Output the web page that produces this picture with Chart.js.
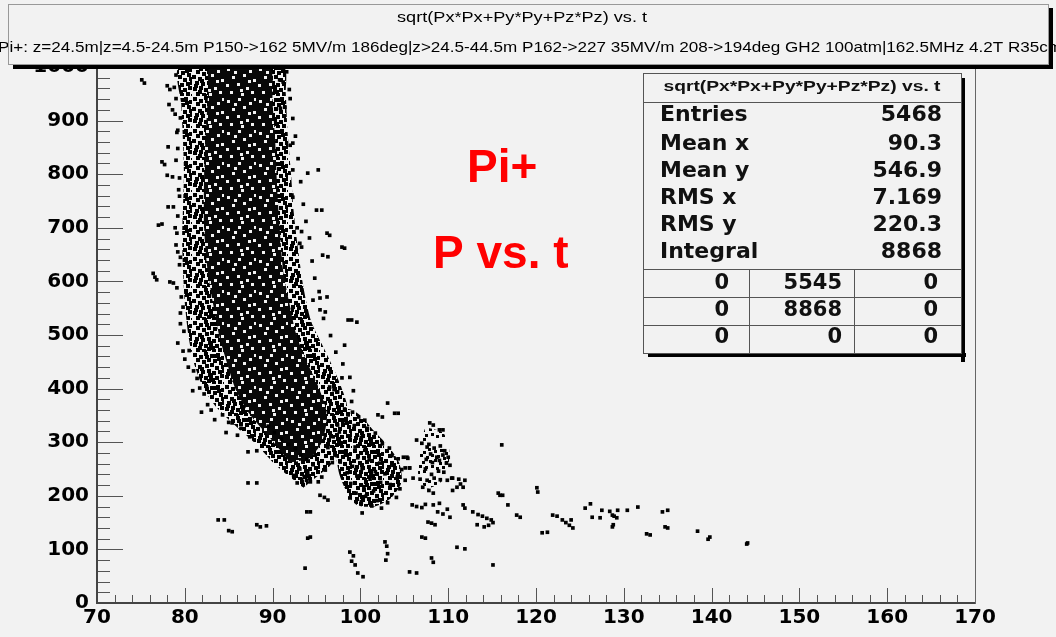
<!DOCTYPE html>
<html>
<head>
<meta charset="utf-8">
<script src="https://cdn.jsdelivr.net/npm/chart.js@4.4.0/dist/chart.umd.min.js"></script>
<style>
  body { margin: 0; background: #f2f2f2; }
  canvas { display: block; }
</style>
</head>
<body>
<canvas id="c" width="1056" height="637"></canvas>
<script>
// --- Axis ranges / ticks ---
const X_MIN = 70, X_MAX = 170, X_MAJOR = 10, X_MINOR = 2;
const Y_MIN = 0, Y_MAX = 1000, Y_MAJOR = 100, Y_MINOR = 20;

// --- Texts ---
const titleLine1 = "sqrt(Px*Px+Py*Py+Pz*Pz) vs. t";
const titleLine2 =
  "Pi+: z=24.5m|z=4.5-24.5m P150->162 5MV/m 186deg|z>24.5-44.5m P162->227 35MV/m 208->194deg GH2 100atm|162.5MHz 4.2T R35cm";
const statLabels = ["Entries", "Mean x", "Mean y", "RMS x", "RMS y", "Integral"];
const statValues = ["5468", "90.3", "546.9", "7.169", "220.3", "8868"];
const tableRows = [["0", "5545", "0"], ["0", "8868", "0"], ["0", "0", "0"]];

// --- Dense core outlines (t, P) ---
// outer, medium density band
const outerBand = [
  [93.5, 215], [90.5, 255], [88.2, 295], [85.8, 330], [83.6, 365], [82.0, 405],
  [81.0, 450], [80.4, 500], [80.0, 560], [79.8, 620], [79.7, 680], [79.8, 740],
  [79.9, 800], [79.8, 860], [79.6, 930], [79.4, 1000],
  [91.2, 1000], [91.5, 950], [91.7, 880], [92.1, 800], [92.4, 730], [92.9, 660],
  [93.5, 590], [94.4, 525], [96.0, 470], [97.4, 420], [98.4, 375], [98.6, 335],
  [98.0, 295], [96.5, 255]
];
// inner, darkest band
const innerBand = [
  [92.0, 262], [89.6, 310], [87.4, 352], [85.8, 398], [84.8, 448], [83.9, 500],
  [83.2, 560], [82.6, 620], [82.2, 700], [82.2, 800], [82.4, 880], [82.7, 960],
  [82.9, 1000],
  [89.6, 1000], [90.0, 930], [90.3, 860], [90.5, 780], [90.8, 700], [91.2, 620],
  [91.9, 560], [92.7, 500], [93.9, 450], [95.3, 400], [96.2, 350], [95.6, 300],
  [94.2, 268]
];
// second blob around t=100
const blob2 = [
  [97.2, 340], [98.6, 362], [100.0, 350], [101.5, 322], [103.0, 296], [104.4, 262],
  [104.7, 226], [103.5, 196], [101.6, 180], [99.6, 183], [98.6, 202], [97.6, 240],
  [97.1, 290]
];
// third blob around t=108
const blob3 = [
  [107.4, 328], [109.4, 318], [110.1, 288], [110.0, 255], [109.2, 226], [107.6, 214],
  [106.6, 238], [106.8, 280], [107.0, 308]
];

// --- Individual markers (t, P) ---
const leftPoints = [
  [75.1, 976], [75.4, 970], [78.0, 965], [78.3, 958], [78.2, 930], [78.6, 920],
  [79.5, 905], [79.2, 882], [78.1, 851], [77.4, 823], [77.7, 818], [78.0, 798],
  [78.6, 795], [79.4, 793], [78.1, 739], [78.7, 739], [77.0, 705], [77.4, 707],
  [78.9, 700], [79.1, 690], [79.2, 655], [79.5, 645], [76.4, 615], [76.6, 608],
  [76.8, 603], [78.3, 599], [78.7, 597], [79.5, 541], [79.8, 552], [79.2, 485],
  [79.8, 470], [80.0, 455], [80.4, 440], [81.7, 401], [82.2, 390], [82.6, 370],
  [83.0, 360], [81.9, 356], [82.5, 403], [85.0, 337], [85.4, 336], [86.0, 313],
  [87.4, 310], [87.2, 282], [88.2, 284], [87.2, 224], [88.2, 224], [83.8, 155],
  [84.5, 155], [85.0, 135], [85.4, 133], [88.2, 146], [88.6, 142], [89.3, 144],
  [79.0, 985], [78.8, 962], [79.0, 941], [78.9, 912], [79.1, 878], [79.2, 848],
  [79.0, 826], [79.3, 771], [79.4, 759], [79.2, 722], [79.0, 668], [79.4, 631],
  [79.1, 588], [79.6, 571], [79.5, 521], [79.9, 507], [80.5, 471], [81.0, 433],
  [81.4, 419], [80.9, 396], [83.4, 342], [84.3, 351], [86.4, 326], [84.7, 318]
];
const rightPoints = [
  [90.8, 976], [91.2, 972], [90.9, 923], [91.4, 925], [92.3, 858], [92.0, 854],
  [92.3, 808], [94.0, 802], [95.2, 808], [92.2, 761], [92.3, 757], [95.0, 733],
  [95.6, 733], [96.2, 690], [96.5, 686], [97.9, 664], [98.2, 662], [95.7, 649],
  [96.3, 646], [93.1, 671], [93.3, 664], [92.8, 700], [93.3, 693], [95.4, 569],
  [96.2, 571], [94.6, 565], [95.4, 547], [96.0, 543], [98.6, 528], [99.0, 528],
  [99.6, 524], [98.2, 481], [97.9, 420], [96.5, 403], [97.0, 398], [97.4, 394],
  [91.6, 991], [91.9, 958], [92.0, 941], [92.3, 904], [92.6, 871], [92.9, 829],
  [93.2, 786], [93.5, 744], [93.8, 712], [94.2, 681], [94.5, 638], [94.8, 606],
  [95.3, 581], [95.8, 531], [96.6, 499], [97.2, 468], [98.0, 446], [98.8, 421],
  [99.2, 396], [99.0, 376], [98.6, 351]
];
const lowBandPoints = [
  [89.5, 330], [90.2, 318], [91.0, 306], [91.8, 296], [92.6, 288], [93.2, 276],
  [93.9, 268], [94.6, 258], [93.1, 250], [94.0, 244], [92.4, 238], [93.6, 236],
  [95.2, 226], [96.8, 262], [97.1, 276], [96.3, 290], [96.9, 310], [97.4, 332],
  [96.0, 248], [92.8, 224], [93.4, 227], [93.9, 229], [94.3, 226], [95.6, 235],
  [95.4, 201], [95.9, 197], [96.3, 192], [93.9, 170], [94.3, 170], [94.3, 123],
  [94.0, 121], [93.7, 65]
];
const blob2Points = [
  [103.1, 373], [103.9, 354], [104.3, 354], [102.0, 351], [102.5, 347], [98.2, 362],
  [99.1, 356], [99.8, 347], [100.5, 341], [98.0, 337], [99.3, 331], [100.8, 326],
  [101.7, 317], [97.6, 319], [98.8, 311], [100.1, 309], [101.2, 301], [102.5, 297],
  [103.3, 289], [97.8, 299], [99.4, 291], [100.5, 285], [102.0, 281], [103.6, 275],
  [104.3, 269], [98.3, 279], [99.7, 271], [101.0, 267], [102.2, 261], [103.7, 257],
  [104.7, 249], [97.7, 263], [99.1, 255], [100.2, 251], [101.7, 245], [102.8, 241],
  [104.2, 235], [105.1, 229], [98.5, 243], [99.6, 237], [101.1, 231], [102.3, 225],
  [103.4, 221], [104.5, 213], [98.9, 223], [100.4, 217], [101.5, 209], [102.9, 205],
  [104.1, 197], [99.5, 205], [100.6, 199], [101.9, 191], [103.1, 187], [100.1, 189],
  [101.3, 181], [102.4, 177], [100.2, 168], [98.8, 196], [105.3, 272], [105.6, 252]
];
const blob3Points = [
  [107.9, 336], [108.3, 332], [109.0, 323], [109.4, 323], [106.4, 304], [107.0, 298],
  [107.6, 291], [107.8, 296], [108.4, 289], [109.1, 293], [109.6, 284], [108.0, 278],
  [108.7, 272], [109.4, 276], [107.5, 268], [108.2, 262], [109.0, 266], [109.8, 261],
  [110.0, 272], [110.2, 257], [104.9, 272], [105.4, 270], [105.1, 252], [105.6, 252],
  [106.0, 233], [106.8, 231], [107.6, 229], [108.4, 233], [109.1, 230], [109.9, 229],
  [110.5, 233], [111.2, 231], [111.9, 229], [110.5, 210], [111.0, 216], [107.1, 216],
  [107.8, 210], [108.3, 205], [108.9, 246], [107.4, 250], [109.5, 244], [108.1, 240],
  [105.9, 183], [106.4, 180], [107.0, 178], [107.4, 184], [108.3, 183], [109.0, 186],
  [108.8, 170], [109.4, 166], [109.9, 175], [110.2, 160], [107.7, 151], [108.1, 149],
  [108.5, 146], [107.0, 123], [107.4, 121], [111.7, 183], [111.9, 177], [110.4, 233],
  [111.7, 216], [111.4, 222]
];
const tailPoints = [
  [102.8, 114], [103.0, 106], [103.1, 92], [102.9, 80], [105.6, 58], [106.4, 56],
  [108.1, 84], [108.3, 76], [111.0, 104], [111.9, 101], [115.1, 71], [98.8, 95],
  [99.2, 88], [99.0, 78], [99.4, 71], [99.7, 56], [100.3, 49], [112.8, 170],
  [113.4, 165], [113.9, 162], [114.4, 158], [114.9, 155], [113.3, 146], [114.1, 142],
  [114.6, 145], [115.1, 150], [115.7, 205], [115.9, 201], [116.2, 201], [116.1, 295],
  [116.8, 183], [117.8, 164], [118.2, 160], [120.1, 215], [120.2, 207], [120.7, 131],
  [121.3, 132], [121.9, 164], [122.4, 162], [123.0, 155], [123.4, 150], [123.8, 145],
  [124.2, 140], [124.0, 155], [125.6, 177], [126.2, 185], [126.4, 160], [127.3, 159],
  [127.5, 173], [128.4, 171], [129.3, 173], [128.7, 164], [129.2, 159], [128.9, 162],
  [128.7, 142], [128.8, 146], [130.4, 173], [131.6, 179], [132.6, 129], [133.0, 127],
  [134.4, 170], [135.0, 173], [134.7, 142], [135.0, 140], [138.4, 134], [139.6, 119],
  [139.8, 123], [144.0, 110], [144.1, 112]
];

const toXY = (arr) => arr.map(([x, y]) => ({ x, y }));

// --- Fill textures for dense regions (fixed hand-placed specks, 32px tile) ---
const TILE_MED = [
  [1, 1], [7, 3], [12, 0], [18, 2], [24, 1], [29, 4], [4, 6], [10, 8], [15, 6],
  [21, 7], [27, 9], [0, 11], [6, 13], [13, 12], [18, 11], [23, 14], [29, 13],
  [3, 17], [9, 18], [15, 17], [20, 19], [26, 18], [1, 23], [7, 22], [12, 24],
  [17, 23], [23, 24], [28, 22], [4, 28], [10, 29], [15, 27], [20, 29], [26, 28],
  [31, 30], [8, 15], [25, 5], [2, 20], [19, 26], [13, 3], [30, 17], [6, 26],
  [22, 2], [16, 21], [11, 30]
];
const TILE_HOLES = [
  [3, 4], [14, 2], [25, 6], [8, 12], [19, 10], [29, 15], [2, 20], [13, 19],
  [22, 23], [6, 27], [17, 29], [27, 27], [10, 7], [30, 2], [24, 16], [16, 25]
];

function makePattern(spots, sq, ink, base) {
  const c = document.createElement("canvas");
  c.width = 32;
  c.height = 32;
  const g = c.getContext("2d");
  if (base) {
    g.fillStyle = base;
    g.fillRect(0, 0, 32, 32);
  }
  g.fillStyle = ink;
  spots.forEach(([x, y]) => g.fillRect(x, y, sq[0], sq[1]));
  return g.createPattern(c, "repeat");
}

const densePattern = makePattern(TILE_HOLES, [3, 3], "#f2f2f2", "#080808");
const medPattern = makePattern(TILE_MED, [4, 4], "#000", null);
const sparsePattern = makePattern(TILE_MED.slice(0, 24), [3, 3], "#000", null);

function polygon(points, fillStyle) {
  return {
    data: toXY(points),
    showLine: true,
    fill: "shape",
    backgroundColor: fillStyle,
    borderWidth: 0,
    pointRadius: 0,
    tension: 0.25,
  };
}

// --- ROOT-like decorations: frame, inner ticks, title pave, stats box ---
const rootDeco = {
  id: "rootDeco",
  beforeDraw(chart) {
    const ctx = chart.ctx;
    ctx.save();
    ctx.fillStyle = "#f2f2f2";
    ctx.fillRect(0, 0, chart.width, chart.height);
    ctx.restore();
  },
  afterDatasetsDraw(chart) {
    const ctx = chart.ctx;
    const a = chart.chartArea;
    const xs = chart.scales.x;
    const ys = chart.scales.y;
    ctx.save();
    ctx.strokeStyle = "#555";
    ctx.lineWidth = 1;
    ctx.beginPath();
    for (let i = 0; i <= (X_MAX - X_MIN) / X_MINOR; i++) {
      const v = X_MIN + i * X_MINOR;
      const px = Math.round(xs.getPixelForValue(v)) + 0.5;
      const len = (v - X_MIN) % X_MAJOR === 0 ? 15 : 8;
      ctx.moveTo(px, a.bottom);
      ctx.lineTo(px, a.bottom - len);
    }
    for (let i = 0; i <= (Y_MAX - Y_MIN) / Y_MINOR; i++) {
      const v = Y_MIN + i * Y_MINOR;
      const py = Math.round(ys.getPixelForValue(v)) + 0.5;
      const len = (v - Y_MIN) % Y_MAJOR === 0 ? 26 : 13;
      ctx.moveTo(a.left, py);
      ctx.lineTo(a.left + len, py);
    }
    ctx.stroke();
    // frame
    ctx.strokeStyle = "#666";
    ctx.strokeRect(a.left + 0.5, a.top + 0.5, a.right - a.left, a.bottom - a.top);
    ctx.strokeStyle = "#444";
    ctx.lineWidth = 2;
    ctx.beginPath();
    ctx.moveTo(a.left, a.top);
    ctx.lineTo(a.left, a.bottom);
    ctx.lineTo(a.right, a.bottom);
    ctx.stroke();
    ctx.restore();
  },
  afterDraw(chart) {
    const ctx = chart.ctx;
    ctx.save();

    // title pave
    ctx.fillStyle = "#000";
    ctx.fillRect(13, 65, 1040, 4);
    ctx.fillStyle = "#f2f2f2";
    ctx.fillRect(8, 4, 1041, 61);
    ctx.fillStyle = "#000";
    ctx.textBaseline = "middle";
    ctx.textAlign = "center";
    ctx.font = "14px 'Liberation Sans'";
    fitText(ctx, titleLine1, 522, 18, 250);
    ctx.font = "15px 'Liberation Sans'";
    fitText(ctx, titleLine2, 530, 48, 1064);
    ctx.fillRect(1049, 8, 4, 61);
    ctx.strokeStyle = "#999";
    ctx.lineWidth = 1;
    ctx.strokeRect(8.5, 4.5, 1040, 60);

    // stats box
    const bx = 643, by = 73, bw = 318, bh = 280;
    ctx.fillStyle = "#000";
    ctx.fillRect(bx + 5, by + bh, bw, 4);
    ctx.fillRect(bx + bw, by + 5, 4, bh + 4);
    ctx.fillStyle = "#f2f2f2";
    ctx.fillRect(bx, by, bw, bh);
    ctx.strokeStyle = "#555";
    ctx.strokeRect(bx + 0.5, by + 0.5, bw, bh);
    ctx.beginPath();
    ctx.moveTo(bx, 102.5); ctx.lineTo(bx + bw, 102.5);
    ctx.moveTo(bx, 269.5); ctx.lineTo(bx + bw, 269.5);
    ctx.moveTo(bx, 297.5); ctx.lineTo(bx + bw, 297.5);
    ctx.moveTo(bx, 325.5); ctx.lineTo(bx + bw, 325.5);
    ctx.moveTo(749.5, 269); ctx.lineTo(749.5, by + bh);
    ctx.moveTo(854.5, 269); ctx.lineTo(854.5, by + bh);
    ctx.stroke();

    ctx.fillStyle = "#111";
    ctx.font = "bold 15px 'Liberation Sans'";
    ctx.textAlign = "center";
    fitText(ctx, titleLine1, 802, 87, 277);

    const rowY = [115, 144, 171, 198, 225, 252];
    ctx.font = "bold 22px 'DejaVu Sans'";
    statLabels.forEach((lab, i) => {
      ctx.textAlign = "left";
      ctx.fillText(lab, 660, rowY[i]);
      ctx.textAlign = "right";
      ctx.fillText(statValues[i], 942, rowY[i]);
    });
    const tabY = [284, 311, 338];
    const tabX = [729, 842, 938];
    ctx.font = "bold 21px 'DejaVu Sans'";
    ctx.textAlign = "right";
    tableRows.forEach((row, r) => {
      row.forEach((cell, c) => ctx.fillText(cell, tabX[c], tabY[r]));
    });

    // red labels
    ctx.fillStyle = "#ff0000";
    ctx.font = "bold 46px 'Liberation Sans'";
    ctx.textAlign = "left";
    ctx.textBaseline = "alphabetic";
    ctx.fillText("Pi+", 467, 182);
    ctx.fillText("P vs. t", 433, 268);

    ctx.restore();
  },
};

function fitText(ctx, text, cx, cy, width) {
  const w = ctx.measureText(text).width;
  ctx.save();
  ctx.translate(cx, cy);
  ctx.scale(width / w, 1);
  ctx.fillText(text, 0, 0);
  ctx.restore();
}

Chart.defaults.font.family = "'DejaVu Sans'";

const markerStyle = {
  showLine: false,
  pointStyle: "rect",
  pointRadius: 2.6,
  backgroundColor: "#000",
  borderWidth: 0,
};

new Chart(document.getElementById("c"), {
  type: "scatter",
  data: {
    datasets: [
      { ...markerStyle, data: toXY(leftPoints) },
      { ...markerStyle, data: toXY(rightPoints) },
      { ...markerStyle, data: toXY(lowBandPoints) },
      { ...markerStyle, data: toXY(blob2Points) },
      { ...markerStyle, data: toXY(blob3Points) },
      { ...markerStyle, data: toXY(tailPoints) },
      polygon(innerBand, densePattern),
      polygon(blob2, medPattern),
      polygon(blob3, sparsePattern),
      polygon(outerBand, medPattern),
    ],
  },
  options: {
    responsive: false,
    animation: false,
    events: [],
    layout: { padding: { top: 67, right: 81, left: 0, bottom: 0 } },
    scales: {
      x: {
        type: "linear",
        min: X_MIN,
        max: X_MAX,
        afterFit: (s) => { s.height = 34; },
        grid: { display: false, drawTicks: false },
        border: { display: false },
        ticks: {
          stepSize: X_MAJOR,
          padding: 3,
          color: "#000",
          font: { size: 20, weight: "bold" },
          maxRotation: 0,
          callback: (v) => String(v),
        },
      },
      y: {
        type: "linear",
        min: Y_MIN,
        max: Y_MAX,
        afterFit: (s) => { s.width = 97; },
        grid: { display: false, drawTicks: false },
        border: { display: false },
        ticks: {
          stepSize: Y_MAJOR,
          padding: 8,
          color: "#000",
          font: { size: 20, weight: "bold" },
          callback: (v) => String(v),
        },
      },
    },
    plugins: {
      legend: { display: false },
      tooltip: { enabled: false },
    },
  },
  plugins: [rootDeco],
});
</script>
</body>
</html>
